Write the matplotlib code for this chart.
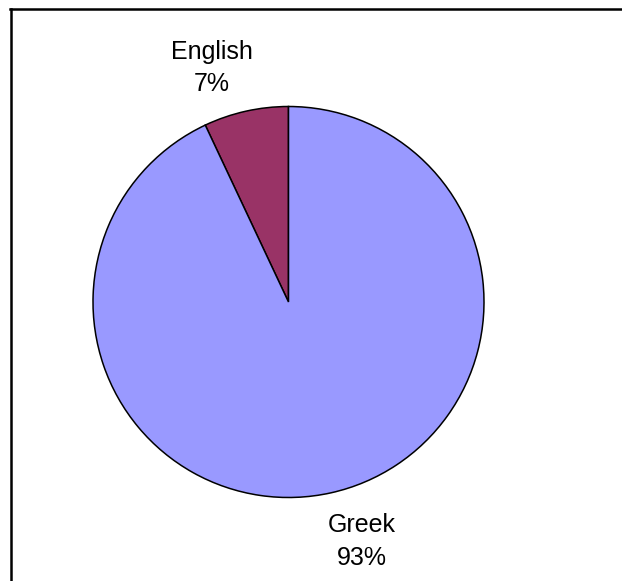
import matplotlib.pyplot as plt
from matplotlib.lines import Line2D

# language share
labels = ["English", "Greek"]
shares = [7, 93]
colors = ["#993366", "#9999FF"]

W, H = 622, 581
fig = plt.figure(figsize=(W / 100, H / 100), dpi=100)
ax = fig.add_axes([0, 0, 1, 1])

# pixel-like coords, y measured from bottom
cx, cy, r = 288.5, H - 302, 195.5
ax.pie(shares, colors=colors, startangle=90, counterclock=True,
       center=(cx, cy), radius=r,
       wedgeprops=dict(edgecolor="black", linewidth=1.1))
ax.set_xlim(0, W)
ax.set_ylim(0, H)
ax.set_aspect("auto")
ax.axis("off")

font = dict(family=["Liberation Sans", "DejaVu Sans"], fontsize=18,
            color="black", ha="center", va="baseline")
# label positions (pixel baselines from top)
label_pos = {"English": (211.5, 59, 91), "Greek": (362, 532, 565)}
for name, val in zip(labels, shares):
    x, b1, b2 = label_pos[name]
    ax.text(x, H - b1, name, **font)
    ax.text(x, H - b2, f"{val}%", **font)

# frame lines at top and left
fig.add_artist(Line2D([10 / W, 1], [1 - 9 / H, 1 - 9 / H], color="black",
                      linewidth=1.8, transform=fig.transFigure))
fig.add_artist(Line2D([11 / W, 11 / W], [0, 1 - 9 / H], color="black",
                      linewidth=1.8, transform=fig.transFigure))

fig.savefig("out.png", dpi=100, facecolor="white")
